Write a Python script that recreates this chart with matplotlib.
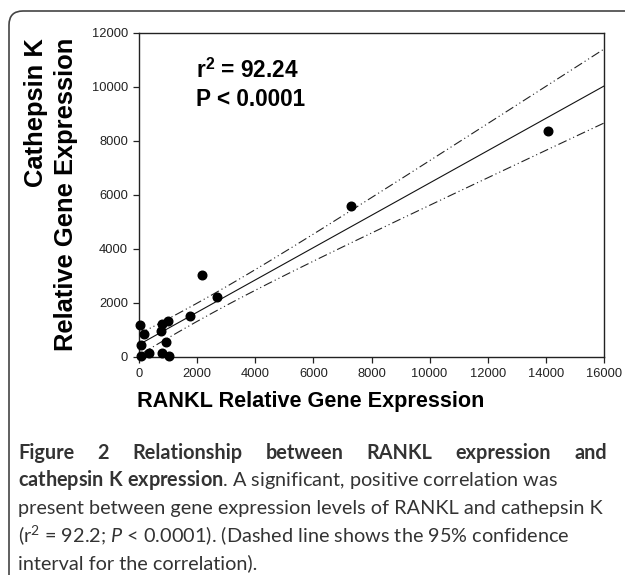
import numpy as np
import matplotlib
matplotlib.use('Agg')
import matplotlib.pyplot as plt
from matplotlib.patches import FancyBboxPatch
from matplotlib.transforms import IdentityTransform

# RANKL vs cathepsin K relative expression
rankl = np.array([7300, 2180, 2700, 1760, 1000, 780, 760, 50, 185, 70,
                  920, 335, 780, 1020, 70, 14060])
cathk = np.array([5580, 3025, 2200, 1505, 1335, 1210, 965, 1175, 830, 435,
                  535, 150, 125, 40, 40, 8360])
x_ticks = [0, 2000, 4000, 6000, 8000, 10000, 12000, 14000, 16000]
y_ticks = [0, 2000, 4000, 6000, 8000, 10000, 12000]
t_crit = 2.145  # t(0.975, df=14)

W, H = 625, 575
cap_font = 'Lato'
plt.rcParams['mathtext.fontset'] = 'custom'
plt.rcParams['mathtext.rm'] = cap_font
plt.rcParams['mathtext.it'] = cap_font + ':italic'
plt.rcParams['mathtext.bf'] = cap_font + ':bold'
plt.rcParams['mathtext.sf'] = 'Liberation Sans:bold'
plt.rcParams['lines.scale_dashes'] = False

fig = plt.figure(figsize=(W / 100, H / 100), dpi=100)
ax = fig.add_axes([139 / W, 1 - 356.7 / H, (604 - 139) / W, (356.7 - 32.7) / H])

# regression line + 95% confidence band
n = len(rankl)
slope, icept = np.polyfit(rankl, cathk, 1)
xs = np.linspace(0, 16000, 300)
pred = icept + slope * xs
resid = cathk - (icept + slope * rankl)
s = np.sqrt(np.sum(resid ** 2) / (n - 2))
sxx = np.sum((rankl - rankl.mean()) ** 2)
half = t_crit * s * np.sqrt(1 / n + (xs - rankl.mean()) ** 2 / sxx)

dash = (0, (6.5, 2.2, 0.8, 2.2, 0.8, 2.2))
ax.plot(xs, pred, color='#111111', lw=0.8)
ax.plot(xs, pred + half, color='#222222', lw=0.8, linestyle=dash)
ax.plot(xs, pred - half, color='#222222', lw=0.8, linestyle=dash)
ax.plot(rankl, cathk, 'o', color='black', ms=6.2, clip_on=False, zorder=5)

ax.set_xlim(0, 16000)
ax.set_ylim(0, 12000)
ax.set_xticks(x_ticks)
ax.set_yticks(y_ticks)
ax.set_xticklabels([str(v) for v in x_ticks], family='Liberation Sans')
ax.set_yticklabels([str(v) for v in y_ticks], family='Liberation Sans')
ax.tick_params(direction='out', length=4, width=0.9, labelsize=9.3,
               pad=4, colors='#222222')
for sp in ax.spines.values():
    sp.set_linewidth(1.0)
    sp.set_color('#222222')


def ptext(x, y, s, **kw):
    return fig.text(x, H - y, s, transform=IdentityTransform(), **kw)


# axis titles
ptext(66, 38, 'Relative Gene Expression', rotation=90, ha='center', va='top',
      family='Liberation Sans', weight='bold', fontsize=18.4)
ptext(36, 38, 'Cathepsin K', rotation=90, ha='center', va='top',
      family='Liberation Sans', weight='bold', fontsize=18.4)
ptext(310.5, 402, 'RANKL Relative Gene Expression', ha='center', va='center',
      family='Liberation Sans', weight='bold', fontsize=15.6)

# statistics annotation
ptext(196, 78, r'r$^{\mathsf{2}}$ = 92.24', family='Liberation Sans',
      weight='bold', fontsize=16.3, va='baseline')
ptext(196, 106, 'P < 0.0001', family='Liberation Sans',
      weight='bold', fontsize=16.3, va='baseline')

# frame round the figure and caption
frame = FancyBboxPatch((9, -40), 700, H - 11 + 40,
                       boxstyle='round,pad=0,rounding_size=14',
                       transform=IdentityTransform(), fill=False,
                       ec='#444444', lw=1.2)
fig.add_artist(frame)

# caption
renderer = fig.canvas.get_renderer()
cap_color = '#333333'
line3 = 'present between gene expression levels of RANKL and cathepsin K'
probe = ptext(0, 0, line3, family=cap_font, fontsize=10)
cap_size = 10 * 586 / probe.get_window_extent(renderer).width
probe.remove()

left, right = 18, 607
base = [459, 486.5, 514, 541.5, 569]

words = 'Figure 2 Relationship between RANKL expression and'.split()
wt = [ptext(0, base[0], w, family=cap_font, weight='bold', fontsize=cap_size,
            color=cap_color, va='baseline') for w in words]
widths = [t.get_window_extent(renderer).width for t in wt]
gap = (right - left - sum(widths)) / (len(words) - 1)
x = left
for t, w in zip(wt, widths):
    t.set_x(x)
    x += w + gap

ptext(left, base[1], r'$\bf{cathepsin\ K\ expression}$. A significant, positive correlation was',
      family=cap_font, fontsize=cap_size, color=cap_color, va='baseline')
ptext(left, base[2], line3, family=cap_font, fontsize=cap_size,
      color=cap_color, va='baseline')
ptext(left, base[3], r'(r$^2$ = 92.2; $\it{P}$ < 0.0001). (Dashed line shows the 95% confidence',
      family=cap_font, fontsize=cap_size, color=cap_color, va='baseline')
ptext(left, base[4], 'interval for the correlation).', family=cap_font,
      fontsize=cap_size, color=cap_color, va='baseline')

fig.savefig('out.png', dpi=100)
